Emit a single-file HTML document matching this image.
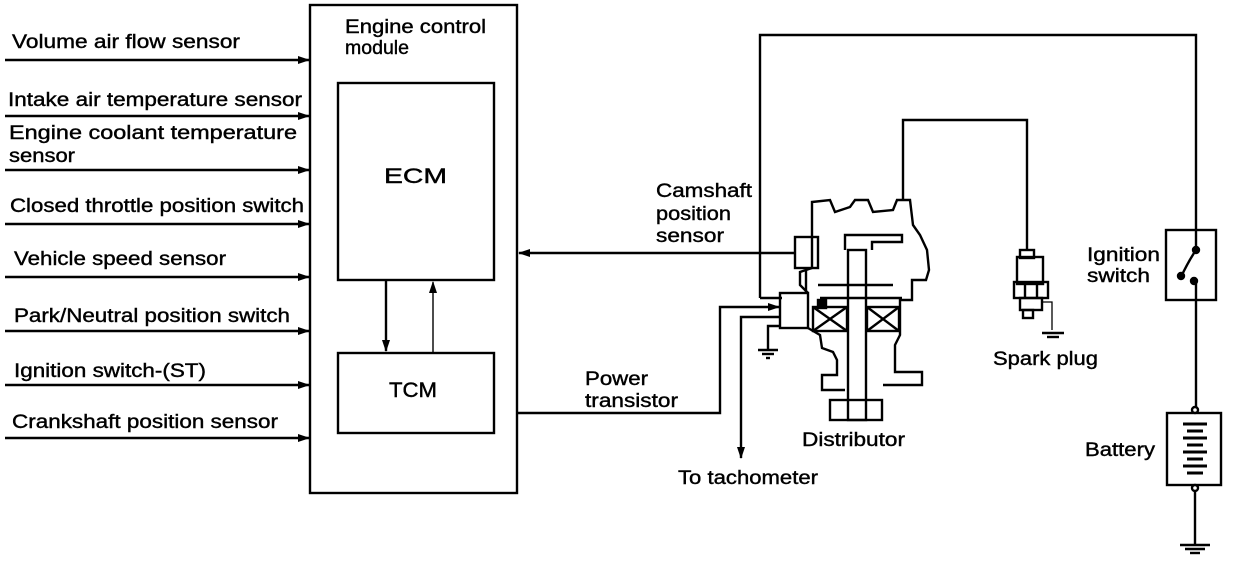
<!DOCTYPE html>
<html><head><meta charset="utf-8"><style>
body{margin:0;background:#fff}
svg{display:block}
text{font-family:"Liberation Sans",sans-serif;font-size:19px;fill:#000;stroke:#000;stroke-width:0.4}
</style></head><body>
<svg width="1248" height="562" viewBox="0 0 1248 562" xmlns="http://www.w3.org/2000/svg">
<defs>
<marker id="a" markerWidth="12" markerHeight="10" refX="11" refY="5" orient="auto" markerUnits="userSpaceOnUse"><path d="M0,1 L12,5 L0,9z" fill="#000"/></marker>
</defs>
<g fill="none" stroke="#000" stroke-width="2.4">
<rect x="310" y="5" width="207" height="488"/>
<rect x="338" y="83" width="156" height="197"/>
<rect x="338" y="353" width="156" height="80"/>
<line x1="386" y1="280" x2="386" y2="351" marker-end="url(#a)"/>
<line x1="433" y1="353" x2="433" y2="282" stroke-width="1.4" marker-end="url(#a)"/>
<g marker-end="url(#a)">
<line x1="5" y1="60" x2="309" y2="60"/>
<line x1="5" y1="116" x2="309" y2="116"/>
<line x1="5" y1="170" x2="309" y2="170"/>
<line x1="5" y1="224" x2="309" y2="224"/>
<line x1="5" y1="277" x2="309" y2="277"/>
<line x1="5" y1="331" x2="309" y2="331"/>
<line x1="5" y1="385" x2="309" y2="385"/>
<line x1="5" y1="438" x2="309" y2="438"/>
<line x1="795" y1="253" x2="519" y2="253"/>
<polyline points="517,413 720,413 720,307 779,307"/>
<polyline points="780,317 741,317 741,458"/>
</g>
<polyline points="760,298 760,35 1196,35 1196,230"/>
<line x1="760" y1="298" x2="782" y2="298"/>
<polyline points="903,200 903,120 1027,120 1027,250"/>
<!-- distributor -->
<rect x="780" y="293" width="28" height="35"/>
<polyline points="781,326 768,326 768,350"/>
<line x1="758" y1="350" x2="778" y2="350"/><line x1="762" y1="354" x2="774" y2="354"/><line x1="766" y1="358" x2="770" y2="358"/>
<polyline points="812,268 812,202 830,200 835,212 850,207 855,200 868,200 873,212 893,210 897,200 910,200 913,225 920,235 927,250 929,270 926,280 912,280 912,300 900,300 900,335 895,345 895,372 922,372 922,385 883,385"/>
<polyline points="808,293 800,285 800,272 812,268"/>
<polyline points="808,328 820,335 822,348 833,352 837,360 837,375 822,375 822,390 845,390"/>
<rect x="795" y="237" width="23" height="31"/>
<line x1="806" y1="268" x2="806" y2="293"/>
<line x1="818" y1="285" x2="893" y2="285"/>
<line x1="820" y1="298" x2="902" y2="298"/>
<rect x="818" y="300" width="8" height="8" fill="#000"/>
<rect x="813" y="307" width="34" height="24"/><line x1="813" y1="307" x2="847" y2="331"/><line x1="847" y1="307" x2="813" y2="331"/>
<rect x="867" y="307" width="32" height="24"/><line x1="867" y1="307" x2="899" y2="331"/><line x1="899" y1="307" x2="867" y2="331"/>
<rect x="848" y="250" width="18" height="170"/>
<polyline points="845,250 845,235 902,235 902,242 872,242 872,250"/>
<rect x="830" y="400" width="52" height="20"/>
<!-- spark plug -->
<rect x="1020" y="250" width="14" height="8"/>
<rect x="1017" y="257" width="26" height="27"/>
<rect x="1014" y="282" width="34" height="16"/>
<line x1="1025" y1="282" x2="1025" y2="298"/><line x1="1037" y1="282" x2="1037" y2="298"/>
<rect x="1020" y="298" width="22" height="12"/>
<rect x="1023" y="310" width="10" height="8"/>
<polyline points="1042,302 1052,302 1052,330" stroke-width="1.3"/>
<line x1="1042" y1="333" x2="1064" y2="333"/><line x1="1047" y1="337" x2="1059" y2="337"/>
<!-- ignition switch -->
<rect x="1166" y="230" width="50" height="70"/>
<line x1="1196" y1="230" x2="1196" y2="250"/>
<line x1="1196" y1="281" x2="1196" y2="413"/>
<path d="M1196,250 Q1188,262 1181,277"/>
<circle cx="1196" cy="250" r="3" fill="#000"/><circle cx="1181" cy="276" r="3" fill="#000"/><circle cx="1194" cy="281" r="3" fill="#000"/>
<!-- battery -->
<rect x="1167" y="413" width="54" height="72"/>
<circle cx="1195" cy="410" r="3" fill="#fff"/>
<circle cx="1195" cy="488" r="3" fill="#fff"/>
<line x1="1195" y1="491" x2="1195" y2="545"/>
<line x1="1180" y1="545" x2="1210" y2="545"/><line x1="1185" y1="549" x2="1205" y2="549"/><line x1="1190" y1="553" x2="1200" y2="553"/>
<g stroke-width="3">
<line x1="1183" y1="424" x2="1207" y2="424"/><line x1="1187" y1="431" x2="1203" y2="431"/>
<line x1="1183" y1="438" x2="1207" y2="438"/><line x1="1187" y1="445" x2="1203" y2="445"/>
<line x1="1183" y1="452" x2="1207" y2="452"/><line x1="1187" y1="459" x2="1203" y2="459"/>
<line x1="1183" y1="466" x2="1207" y2="466"/><line x1="1187" y1="473" x2="1203" y2="473"/>
</g>
</g>
<g lengthAdjust="spacingAndGlyphs">
<text x="12" y="48" textLength="228" lengthAdjust="spacingAndGlyphs">Volume air flow sensor</text>
<text x="8" y="106" textLength="294" lengthAdjust="spacingAndGlyphs">Intake air temperature sensor</text>
<text x="9" y="139" textLength="288" lengthAdjust="spacingAndGlyphs">Engine  coolant  temperature</text>
<text x="9" y="162" textLength="66" lengthAdjust="spacingAndGlyphs">sensor</text>
<text x="10" y="212" textLength="294" lengthAdjust="spacingAndGlyphs">Closed throttle position switch</text>
<text x="14" y="265" textLength="212" lengthAdjust="spacingAndGlyphs">Vehicle speed sensor</text>
<text x="14" y="322" textLength="276" lengthAdjust="spacingAndGlyphs">Park/Neutral position switch</text>
<text x="14" y="377" textLength="192" lengthAdjust="spacingAndGlyphs">Ignition switch-(ST)</text>
<text x="12" y="428" textLength="266" lengthAdjust="spacingAndGlyphs">Crankshaft position sensor</text>
<text x="345" y="33" textLength="141" lengthAdjust="spacingAndGlyphs">Engine control</text>
<text x="345" y="54" textLength="64" lengthAdjust="spacingAndGlyphs">module</text>
<text x="384" y="183" textLength="63" lengthAdjust="spacingAndGlyphs" style="font-size:21px">ECM</text>
<text x="389" y="397" textLength="48" lengthAdjust="spacingAndGlyphs" style="font-size:21px">TCM</text>
<text x="656" y="197" textLength="96" lengthAdjust="spacingAndGlyphs">Camshaft</text>
<text x="656" y="220" textLength="75" lengthAdjust="spacingAndGlyphs">position</text>
<text x="656" y="242" textLength="68" lengthAdjust="spacingAndGlyphs">sensor</text>
<text x="585" y="385" textLength="63" lengthAdjust="spacingAndGlyphs">Power</text>
<text x="585" y="407" textLength="93" lengthAdjust="spacingAndGlyphs">transistor</text>
<text x="678" y="484" textLength="140" lengthAdjust="spacingAndGlyphs">To tachometer</text>
<text x="802" y="446" textLength="103" lengthAdjust="spacingAndGlyphs">Distributor</text>
<text x="993" y="365" textLength="105" lengthAdjust="spacingAndGlyphs">Spark plug</text>
<text x="1087" y="261" textLength="73" lengthAdjust="spacingAndGlyphs">Ignition</text>
<text x="1087" y="282" textLength="63" lengthAdjust="spacingAndGlyphs">switch</text>
<text x="1085" y="456" textLength="70" lengthAdjust="spacingAndGlyphs">Battery</text>
</g>
</svg>
</body></html>
